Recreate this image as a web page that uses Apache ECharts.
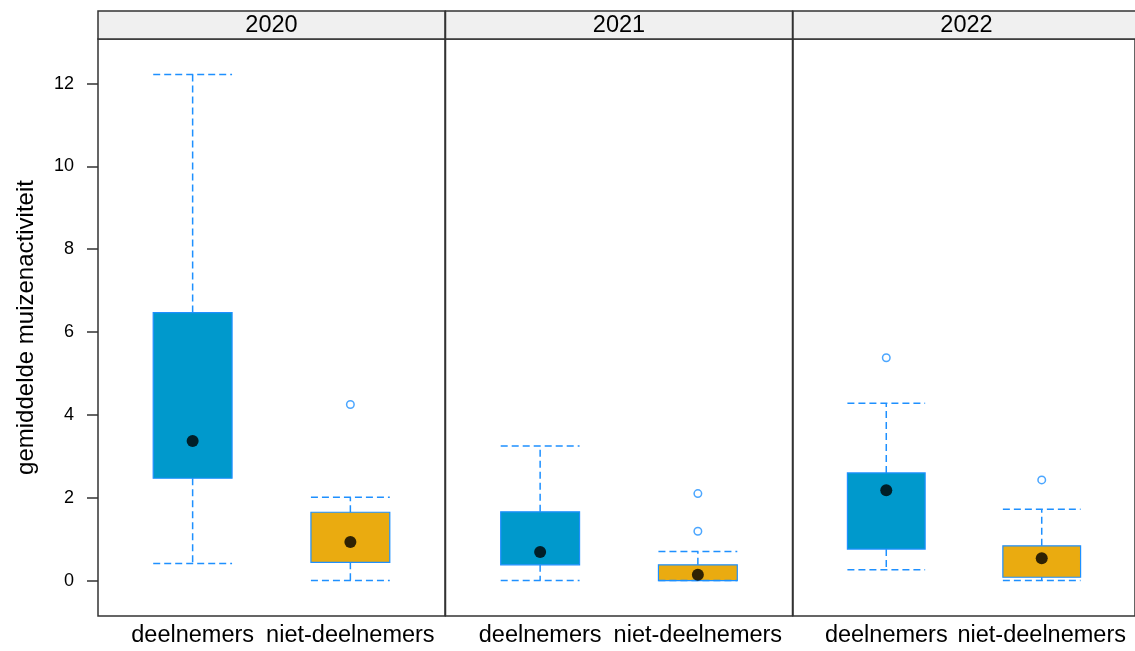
<!DOCTYPE html>
<html>
<head>
<meta charset="utf-8">
<script src="https://cdn.jsdelivr.net/npm/echarts@6/dist/echarts.min.js"></script>
<style>
  html, body { margin: 0; padding: 0; background: #ffffff; }
  #chart { width: 1135px; height: 651px; }
</style>
</head>
<body>
<div id="chart"></div>
<script>
// Panels (one per year) and the two groups inside each panel
const years = ['2020', '2021', '2022'];
const groups = ['deelnemers', 'niet-deelnemers'];

// Box statistics per group: [lower whisker, Q1, median, Q3, upper whisker]
const stats2020 = [[0.41, 2.47, 3.37, 6.47, 12.22], [0, 0.44, 0.93, 1.65, 2.01]];
const stats2021 = [[0, 0.38, 0.69, 1.66, 3.25], [0, 0, 0.14, 0.38, 0.70]];
const stats2022 = [[0.26, 0.76, 2.18, 2.60, 4.28], [0, 0.08, 0.54, 0.84, 1.72]];

// Points beyond the whiskers, per group
const outliers2020 = [[], [4.25]];
const outliers2021 = [[], [2.10, 1.19]];
const outliers2022 = [[5.38], [2.43]];

const yTicks = [0, 2, 4, 6, 8, 10, 12];

const statsByYear = [stats2020, stats2021, stats2022];
const outliersByYear = [outliers2020, outliers2021, outliers2022];

const FONT = 'Liberation Sans, Arial, sans-serif';
const BOX_FILL = ['#0099CC', '#EAAB10'];
const LINE_BLUE = '#1E90FF';
const FRAME = '#333333';

// Shared y range: data extent padded by 7% on both sides
let lo = Infinity, hi = -Infinity;
statsByYear.forEach(s => s.forEach(b => { lo = Math.min(lo, b[0]); hi = Math.max(hi, b[4]); }));
outliersByYear.forEach(o => o.forEach(g => g.forEach(v => { lo = Math.min(lo, v); hi = Math.max(hi, v); })));
const pad = (hi - lo) * 0.07;
const yMin = lo - pad, yMax = hi + pad;

// Panel geometry
const panelLeft = 98, panelWidth = 347, panelTop = 39, panelHeight = 577, stripTop = 11;

const grids = [], xAxes = [], yAxes = [], series = [], graphics = [];

years.forEach((year, i) => {
  const left = panelLeft + i * (panelWidth + 0.5);
  grids.push({
    left: left, top: panelTop, width: panelWidth, height: panelHeight,
    show: true, borderColor: FRAME, borderWidth: 1.5, backgroundColor: 'transparent'
  });
  xAxes.push({
    type: 'value', gridIndex: i, min: 0.4, max: 2.6,
    axisLine: { show: false }, axisTick: { show: false }, splitLine: { show: false },
    axisLabel: {
      customValues: [1, 2],
      formatter: v => groups[Math.round(v) - 1],
      fontFamily: FONT, fontSize: 23.5, color: '#000', margin: 8
    }
  });
  yAxes.push({
    type: 'value', gridIndex: i, min: yMin, max: yMax,
    splitLine: { show: false },
    axisLine: { show: false },
    axisTick: { show: i === 0, customValues: yTicks, length: 11, inside: false,
                lineStyle: { color: FRAME, width: 1.5 } },
    axisLabel: { show: i === 0, customValues: yTicks, margin: 24,
                 fontFamily: FONT, fontSize: 18, color: '#000' },
    name: i === 0 ? 'gemiddelde muizenactiviteit' : '',
    nameLocation: 'middle', nameGap: 60,
    nameTextStyle: { fontFamily: FONT, fontSize: 24, color: '#000' }
  });

  // Strip with the year above each panel
  graphics.push({
    type: 'group',
    children: [
      { type: 'rect', shape: { x: left, y: stripTop, width: panelWidth, height: panelTop - stripTop },
        style: { fill: '#F0F0F0', stroke: FRAME, lineWidth: 1.5 } },
      { type: 'text', x: left + panelWidth / 2, y: stripTop + (panelTop - stripTop) / 2 + 1,
        style: { text: year, fontFamily: FONT, fontSize: 23.5, fill: '#000',
                 align: 'center', verticalAlign: 'middle' } }
    ]
  });

  const stats = statsByYear[i];
  const boxData = stats.map((b, g) => [g + 1, b[0], b[1], b[2], b[3], b[4], g]);

  // Boxes and dashed whiskers
  series.push({
    type: 'custom', xAxisIndex: i, yAxisIndex: i,
    data: boxData,
    encode: { x: 0, y: [1, 2, 3, 4, 5] },
    renderItem: (params, api) => {
      const x = api.value(0);
      const g = api.value(6);
      const half = 0.25;
      const pLowL = api.coord([x - half, api.value(1)]);
      const pLowR = api.coord([x + half, api.value(1)]);
      const pQ1 = api.coord([x - half, api.value(2)]);
      const pQ3R = api.coord([x + half, api.value(4)]);
      const pHighL = api.coord([x - half, api.value(5)]);
      const pHighR = api.coord([x + half, api.value(5)]);
      const cx = api.coord([x, 0])[0];
      const dash = { stroke: LINE_BLUE, lineWidth: 1.5, lineDash: [7, 4], fill: null };
      return {
        type: 'group',
        children: [
          { type: 'rect',
            shape: { x: pQ1[0], y: pQ3R[1], width: pQ3R[0] - pQ1[0], height: pQ1[1] - pQ3R[1] },
            style: { fill: BOX_FILL[g], stroke: LINE_BLUE, lineWidth: 1.2 } },
          { type: 'line', shape: { x1: cx, y1: pQ3R[1], x2: cx, y2: pHighL[1] }, style: dash },
          { type: 'line', shape: { x1: cx, y1: pQ1[1], x2: cx, y2: pLowL[1] }, style: dash },
          { type: 'line', shape: { x1: pHighL[0], y1: pHighL[1], x2: pHighR[0], y2: pHighR[1] }, style: dash },
          { type: 'line', shape: { x1: pLowL[0], y1: pLowL[1], x2: pLowR[0], y2: pLowR[1] }, style: dash }
        ]
      };
    },
    z: 2
  });

  // Median dots
  series.push({
    type: 'scatter', xAxisIndex: i, yAxisIndex: i,
    data: stats.map((b, g) => [g + 1, b[2]]),
    symbol: 'circle', symbolSize: 12,
    itemStyle: { color: '#000' },
    z: 4
  });

  // Outliers
  const outData = [];
  outliersByYear[i].forEach((vals, g) => vals.forEach(v => outData.push([g + 1, v])));
  series.push({
    type: 'scatter', xAxisIndex: i, yAxisIndex: i,
    data: outData,
    symbol: 'circle', symbolSize: 7.5,
    itemStyle: { color: '#ffffff', borderColor: LINE_BLUE, borderWidth: 1.5 },
    z: 3
  });
});

const chart = echarts.init(document.getElementById('chart'), null, { renderer: 'canvas' });
chart.setOption({
  animation: false,
  backgroundColor: '#ffffff',
  grid: grids,
  xAxis: xAxes,
  yAxis: yAxes,
  series: series,
  graphic: graphics
});
</script>
</body>
</html>
